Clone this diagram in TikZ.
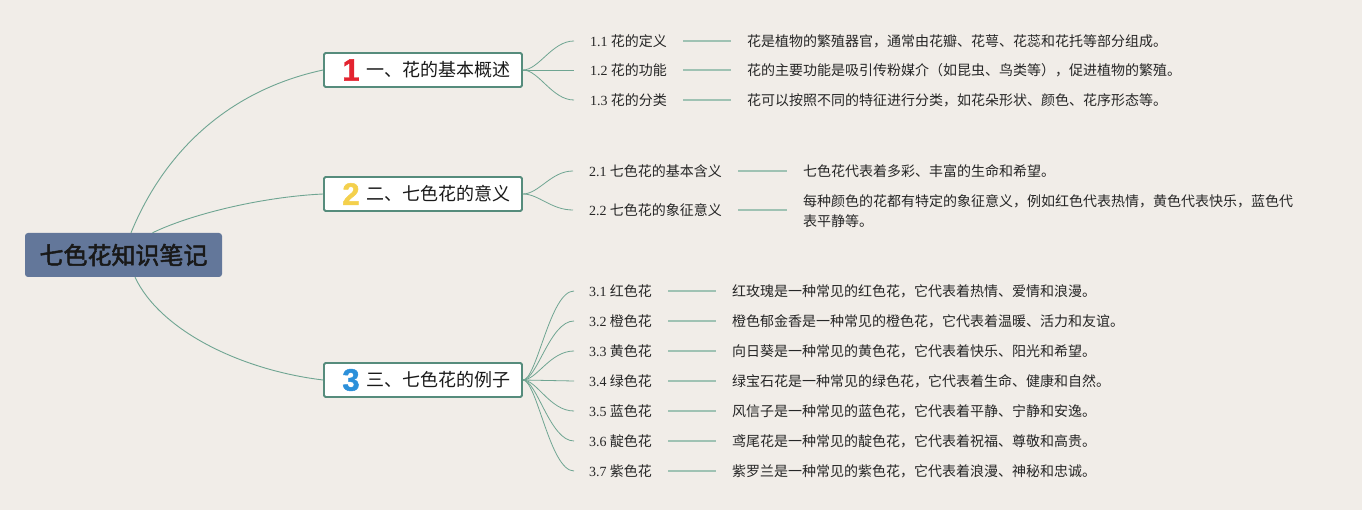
\documentclass[tikz,border=0pt]{standalone}
\usepackage{fontspec}
\setmainfont{Noto Sans CJK SC}[AutoFakeBold=2]
\newfontfamily\numfont{Liberation Serif}
\newfontfamily\digitfont{Liberation Sans}[UprightFont={* Bold}, FakeBold=1.5]
\usepackage{xcolor}
\usetikzlibrary{positioning, calc}

\definecolor{bgcol}{HTML}{F1EDE8}
\definecolor{rootcol}{HTML}{63779A}
\definecolor{tealcol}{HTML}{568C7C}
\definecolor{curvecol}{HTML}{6FA592}
\definecolor{linkcol}{HTML}{9FC2B3}
\definecolor{onecol}{HTML}{E3232F}
\definecolor{twocol}{HTML}{F4D04C}
\definecolor{threecol}{HTML}{2C90DA}

\begin{document}
\begin{tikzpicture}[
  x=1pt, y=-1pt,
  root/.style={fill=rootcol, rounded corners=3pt, minimum width=197pt,
               minimum height=44pt, inner sep=0pt,
               font=\fontsize{24}{24}\selectfont\bfseries, text=black!90},
  sec/.style={draw=tealcol, line width=1.8pt, fill=white, rounded corners=1.5pt,
              minimum width=198pt, minimum height=34pt, inner sep=0pt},
  sectxt/.style={anchor=west, inner sep=0pt, font=\fontsize{18}{18}\selectfont, text=black!90},
  badge/.style={inner sep=0pt, font=\digitfont\fontsize{31}{31}\selectfont},
  lab/.style={anchor=west, inner sep=0pt, font=\fontsize{14}{14}\selectfont, text=black!85},
  desc/.style={anchor=west, inner sep=0pt, font=\fontsize{14}{20}\selectfont,
               align=left, text=black!85},
  branch/.style={draw=curvecol, line width=0.9pt},
  twig/.style={draw=curvecol, line width=0.8pt},
  link/.style={draw=linkcol, line width=2.2pt}
]
\path[use as bounding box, fill=bgcol] (0,0) rectangle (1362,510);

\node[root] (root) at (123.5,255) {七色花知识笔记};

\node[sec]    (sec1)  at (423,70) {};
\node[badge, text=onecol] (num1) at (351,70) {1};
\node[sectxt] (sec1t) at (366,70) {一、花的基本概述};
\node[sec]    (sec2)  at (423,194) {};
\node[badge, text=twocol] (num2) at (351,194) {2};
\node[sectxt] (sec2t) at (366,194) {二、七色花的意义};
\node[sec]    (sec3)  at (423,380) {};
\node[badge, text=threecol] (num3) at (351,380) {3};
\node[sectxt] (sec3t) at (366,380) {三、七色花的例子};

\draw[branch] ([xshift=7.5pt]root.north) .. controls +(34,-83) and +(-93,20) .. (sec1.west);
\draw[branch] ([xshift=29pt]root.north) .. controls +(37,-18) and +(-63,3) .. (sec2.west);
\draw[branch] ([xshift=11.5pt]root.south) .. controls +(25,53) and +(-83,-10) .. (sec3.west);

\node[lab]  (l11) at (590,41)  {{\numfont 1.1} 花的定义};
\node[desc] (d11) at (747,41)  {花是植物的繁殖器官，通常由花瓣、花萼、花蕊和花托等部分组成。};
\node[lab]  (l12) at (590,70)  {{\numfont 1.2} 花的功能};
\node[desc] (d12) at (747,70)  {花的主要功能是吸引传粉媒介（如昆虫、鸟类等），促进植物的繁殖。};
\node[lab]  (l13) at (590,100) {{\numfont 1.3} 花的分类};
\node[desc] (d13) at (747,100) {花可以按照不同的特征进行分类，如花朵形状、颜色、花序形态等。};

\draw[twig] (sec1.east) .. controls +(16,0) and +(-22,0) .. ([xshift=-16pt]l11.west);
\draw[twig] (sec1.east) -- ([xshift=-16pt]l12.west);
\draw[twig] (sec1.east) .. controls +(16,0) and +(-22,0) .. ([xshift=-16pt]l13.west);
\draw[link] ([xshift=16pt]l11.east) -- ([xshift=-16pt]d11.west);
\draw[link] ([xshift=16pt]l12.east) -- ([xshift=-16pt]d12.west);
\draw[link] ([xshift=16pt]l13.east) -- ([xshift=-16pt]d13.west);

\node[lab]  (l21) at (589,171) {{\numfont 2.1} 七色花的基本含义};
\node[desc] (d21) at (803,171) {七色花代表着多彩、丰富的生命和希望。};
\node[lab]  (l22) at (589,210) {{\numfont 2.2} 七色花的象征意义};
\node[desc] (d22) at (803,211) {每种颜色的花都有特定的象征意义，例如红色代表热情，黄色代表快乐，蓝色代\\表平静等。};

\draw[twig] (sec2.east) .. controls +(16,0) and +(-22,0) .. ([xshift=-16pt]l21.west);
\draw[twig] (sec2.east) .. controls +(16,0) and +(-22,0) .. ([xshift=-16pt]l22.west);
\draw[link] ([xshift=16pt]l21.east) -- ([xshift=-16pt]d21.west);
\draw[link] ([xshift=16pt]l22.east) -- ([xshift=-16pt]d22.west |- l22.east);

\node[lab]  (l31) at (589,291) {{\numfont 3.1} 红色花};
\node[desc] (d31) at (732,291) {红玫瑰是一种常见的红色花，它代表着热情、爱情和浪漫。};
\node[lab]  (l32) at (589,321) {{\numfont 3.2} 橙色花};
\node[desc] (d32) at (732,321) {橙色郁金香是一种常见的橙色花，它代表着温暖、活力和友谊。};
\node[lab]  (l33) at (589,351) {{\numfont 3.3} 黄色花};
\node[desc] (d33) at (732,351) {向日葵是一种常见的黄色花，它代表着快乐、阳光和希望。};
\node[lab]  (l34) at (589,381) {{\numfont 3.4} 绿色花};
\node[desc] (d34) at (732,381) {绿宝石花是一种常见的绿色花，它代表着生命、健康和自然。};
\node[lab]  (l35) at (589,411) {{\numfont 3.5} 蓝色花};
\node[desc] (d35) at (732,411) {风信子是一种常见的蓝色花，它代表着平静、宁静和安逸。};
\node[lab]  (l36) at (589,441) {{\numfont 3.6} 靛色花};
\node[desc] (d36) at (732,441) {鸢尾花是一种常见的靛色花，它代表着祝福、尊敬和高贵。};
\node[lab]  (l37) at (589,471) {{\numfont 3.7} 紫色花};
\node[desc] (d37) at (732,471) {紫罗兰是一种常见的紫色花，它代表着浪漫、神秘和忠诚。};

\draw[twig] (sec3.east) .. controls +(14,0) and +(-24,0) .. ([xshift=-15pt]l31.west);
\draw[twig] (sec3.east) .. controls +(14,0) and +(-24,0) .. ([xshift=-15pt]l32.west);
\draw[twig] (sec3.east) .. controls +(14,0) and +(-24,0) .. ([xshift=-15pt]l33.west);
\draw[twig] (sec3.east) -- ([xshift=-15pt]l34.west);
\draw[twig] (sec3.east) .. controls +(14,0) and +(-24,0) .. ([xshift=-15pt]l35.west);
\draw[twig] (sec3.east) .. controls +(14,0) and +(-24,0) .. ([xshift=-15pt]l36.west);
\draw[twig] (sec3.east) .. controls +(14,0) and +(-24,0) .. ([xshift=-15pt]l37.west);
\draw[link] ([xshift=16pt]l31.east) -- ([xshift=-16pt]d31.west);
\draw[link] ([xshift=16pt]l32.east) -- ([xshift=-16pt]d32.west);
\draw[link] ([xshift=16pt]l33.east) -- ([xshift=-16pt]d33.west);
\draw[link] ([xshift=16pt]l34.east) -- ([xshift=-16pt]d34.west);
\draw[link] ([xshift=16pt]l35.east) -- ([xshift=-16pt]d35.west);
\draw[link] ([xshift=16pt]l36.east) -- ([xshift=-16pt]d36.west);
\draw[link] ([xshift=16pt]l37.east) -- ([xshift=-16pt]d37.west);
\end{tikzpicture}
\end{document}
